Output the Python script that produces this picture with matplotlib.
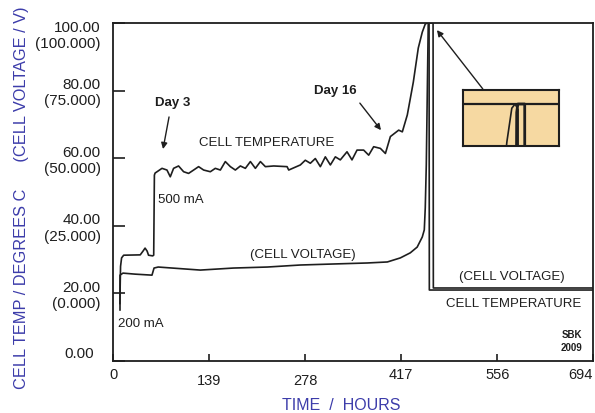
import numpy as np
import matplotlib.pyplot as plt
from matplotlib.transforms import ScaledTranslation

plt.rcParams['font.family'] = ['Liberation Sans', 'DejaVu Sans']

# cell temperature trace (hours, chart units)
temp_t = [9.5, 9.8, 10.5, 12, 15, 39, 43, 46, 49, 51, 57, 58.5, 59.5,
          60.5, 70.5, 77.7, 82.5, 87.3, 94.5, 101.8, 109, 116.3, 123.5, 130.8,
          140.5, 147.7, 155, 162.2, 169.5, 176.7, 184, 191.2, 198.5, 205.7, 213,
          220.2, 232.3, 251.6, 254, 270.8, 278, 285.3, 292.5, 299.8, 307, 314.3,
          321.5, 328.7, 338.4, 345.6, 352.9, 362.5, 369.8, 377, 386.7, 394,
          401.2, 413.2, 418.5, 425.7, 434.4, 441.6, 447.4, 451.7, 454.6, 457.2,
          457.6, 694]
temp_v = [17.0, 20.4, 28.0, 30.5, 31.3, 31.4, 32.5, 33.4, 32.5, 31.3, 31.1, 31.3, 55.0,
          55.6, 57.0, 56.5, 54.5, 57.0, 57.7, 56.0, 55.5, 56.5, 57.5, 56.5,
          56.0, 57.0, 56.5, 59.0, 57.5, 56.5, 57.7, 57.0, 59.0, 57.0, 59.0,
          57.5, 57.7, 57.5, 56.5, 58.0, 59.4, 58.5, 59.9, 57.5, 60.4, 58.0,
          60.4, 59.5, 61.9, 59.5, 62.4, 62.4, 60.9, 63.4, 62.9, 61.4,
          66.4, 68.3, 67.8, 72.8, 82.5, 92.6, 97.3, 99.7, 100.0, 99.6,
          21.0, 21.0]

# cell voltage trace (hours, chart units)
volt_t = [9.7, 9.7, 14, 31.4, 56, 59, 65, 126, 173.8, 223, 270.8, 318.6,
          367.8, 396.8, 415.6, 430, 440, 447.4, 450.3, 451.7, 453.2, 456,
          457, 463, 463.4, 694]
volt_v = [15.1, 25.4, 26.0, 25.7, 25.4, 27.5, 27.8, 26.9, 27.5, 27.8, 28.4, 28.7,
          29.0, 29.3, 30.5, 32.0, 33.7, 36.7, 38.8, 45.3, 58.0, 99.4,
          100.0, 100.0, 21.6, 21.6]

xticks = [0, 139, 278, 417, 556, 694]
yticks = [0, 20, 40, 60, 80, 100]
ylabels = ['0.00', '20.00\n(0.000)', '40.00\n(25.000)', '60.00\n(50.000)',
           '80.00\n(75.000)', '100.00\n(100.000)']

ink = '#1e1e1e'
blue = '#3c3caa'

fig = plt.figure(figsize=(5.95, 4.13), dpi=100)
ax = fig.add_axes([113.3 / 595, 52 / 413, 479.3 / 595, 338 / 413])

ax.plot(temp_t, temp_v, color=ink, lw=1.2)
ax.plot(volt_t, volt_v, color=ink, lw=1.2)

ax.set_xlim(0, 694)
ax.set_ylim(0, 100)
ax.set_xticks(xticks)
ax.set_xticklabels([str(v) for v in xticks])
ax.set_yticks(yticks)
ax.set_yticklabels(ylabels)
ax.tick_params(axis='y', direction='in', length=8.5, width=1.2, pad=9,
               labelsize=11, colors=ink)
ax.tick_params(axis='x', direction='in', length=5, width=1.2, pad=5,
               labelsize=10.5, colors=ink)
for s in ax.spines.values():
    s.set_linewidth(1.3)
    s.set_color(ink)

# quirky label offsets like the original
ylabs = ax.get_yticklabels()
ylabs[0].set_transform(ylabs[0].get_transform() + ScaledTranslation(-0.07, 0.09, fig.dpi_scale_trans))
ylabs[-1].set_transform(ylabs[-1].get_transform() + ScaledTranslation(0, -0.10, fig.dpi_scale_trans))
xlabs = ax.get_xticklabels()
for i in (1, 2):
    xlabs[i].set_transform(xlabs[i].get_transform() + ScaledTranslation(0, -0.06, fig.dpi_scale_trans))
xlabs[-1].set_ha('right')

# annotations
ax.text(86.7, 76.3, 'Day 3', fontsize=9.5, fontweight='bold', ha='center', va='center', color=ink)
ax.text(321, 79.9, 'Day 16', fontsize=9.5, fontweight='bold', ha='center', va='center', color=ink)
arw = dict(arrowstyle='-|>', color=ink, lw=1.0, mutation_scale=9, shrinkA=0, shrinkB=0)
ax.annotate('', xy=(72, 62.7), xytext=(80.7, 72.2), arrowprops=arw)
ax.annotate('', xy=(387.6, 68.3), xytext=(357, 76.3), arrowprops=arw)
ax.annotate('', xy=(468.6, 97.9), xytext=(535, 80.5), arrowprops=arw)

ax.text(222.5, 64.5, 'CELL TEMPERATURE', fontsize=9.5, ha='center', va='center', color=ink)
ax.text(64.7, 47.6, '500 mA', fontsize=9.5, ha='left', va='center', color=ink)
ax.text(6.8, 10.9, '200 mA', fontsize=9.5, ha='left', va='center', color=ink)
ax.text(274.7, 31.4, '(CELL VOLTAGE)', fontsize=9.5, ha='center', va='center', color=ink)
ax.text(577.3, 24.9, '(CELL VOLTAGE)', fontsize=9.5, ha='center', va='center', color=ink)
ax.text(580.2, 17.0, 'CELL TEMPERATURE', fontsize=9.5, ha='center', va='center', color=ink)
ax.text(664, 7.7, 'SBK', fontsize=7, fontweight='bold', ha='center', va='center', color=ink)
ax.text(664, 3.8, '2009', fontsize=7, fontweight='bold', ha='center', va='center', color=ink)

# axis titles
fig.text(22 / 595, (413 - 198) / 413, 'CELL TEMP / DEGREES C      (CELL VOLTAGE / V)',
         rotation=90, ha='center', va='center', fontsize=11.8, color=blue)
fig.text(341 / 595, (413 - 405) / 413, 'TIME  /  HOURS', ha='center', va='center',
         fontsize=11.5, color=blue)

# magnified view of the peak
ins = fig.add_axes([463 / 595, (413 - 146) / 413, 96 / 595, 56 / 413])
ins.set_facecolor('#f6d9a2')
ins.axhline(100, color=ink, lw=1.6)
ins.plot(temp_t, temp_v, color=ink, lw=1.2)
ins.plot(volt_t, volt_v, color=ink, lw=2.0)
ins.set_xlim(409, 493)
ins.set_ylim(97, 101)
ins.set_xticks([])
ins.set_yticks([])
for s in ins.spines.values():
    s.set_linewidth(1.5)
    s.set_color(ink)

fig.savefig('out.png', dpi=100)
